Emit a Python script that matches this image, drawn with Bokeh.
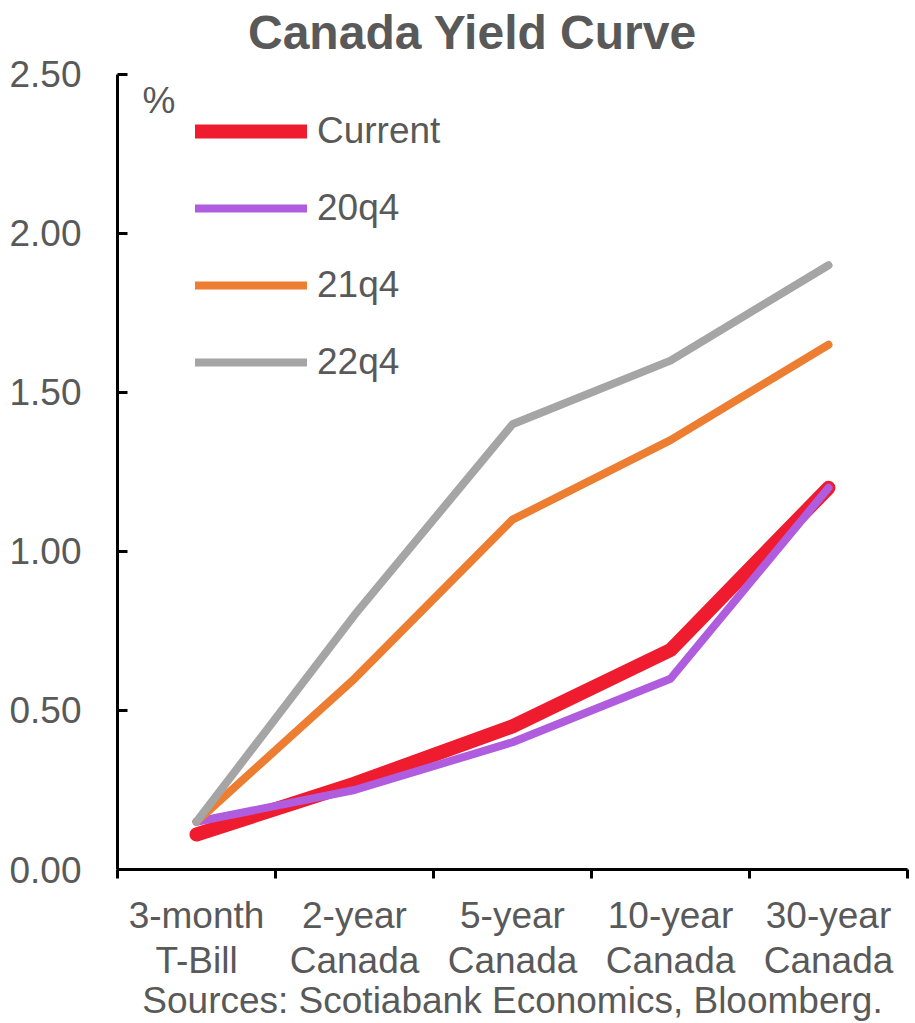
from bokeh.plotting import figure
from bokeh.models import FixedTicker, NumeralTickFormatter, Range1d, Legend, LegendItem, Label, ColumnDataSource
from bokeh.embed import file_html
from bokeh.resources import INLINE

# Canada yield curve: yields (%) by maturity
maturities = ["3-month\nT-Bill", "2-year\nCanada", "5-year\nCanada", "10-year\nCanada", "30-year\nCanada"]
current = [0.11, 0.27, 0.45, 0.69, 1.20]
q4_20 = [0.15, 0.25, 0.40, 0.60, 1.20]
q4_21 = [0.15, 0.60, 1.10, 1.35, 1.65]
q4_22 = [0.15, 0.80, 1.40, 1.60, 1.90]
y_ticks = [0.0, 0.5, 1.0, 1.5, 2.0, 2.5]

FONT = "Liberation Sans"
TEXT = "#595959"

# plot area runs to the top of the canvas so the title can sit inside it;
# the value axis itself only spans 0 - 2.5 (796 px of the 870 px frame)
Y_MAX = 2.5
FRAME_H, AXIS_H = 870, 796
y_top = Y_MAX * FRAME_H / AXIS_H

xpos = [i + 0.5 for i in range(len(maturities))]
bounds = list(range(len(maturities) + 1))

p = figure(width=915, height=1023, output_backend="svg", toolbar_location=None,
           x_range=Range1d(0, len(maturities)), y_range=Range1d(0, y_top),
           min_border_left=117, min_border_right=8, min_border_top=0, min_border_bottom=153)
p.outline_line_color = None
p.xgrid.visible = False
p.ygrid.visible = False
p.background_fill_color = "white"

series = [
    ("Current", current, "#EE1C2E", 14),
    ("20q4", q4_20, "#AF5CDE", 8),
    ("21q4", q4_21, "#ED7D31", 8),
    ("22q4", q4_22, "#A5A5A5", 8),
]

items = []
for name, vals, color, w in series:
    src = ColumnDataSource(dict(x=xpos, y=vals))
    r = p.line("x", "y", source=src, line_color=color, line_width=w,
               line_cap="round", line_join="round")
    items.append(LegendItem(label=name, renderers=[r]))

legend = Legend(items=items, location=(78, 486), orientation="vertical",
                label_text_font=FONT, label_text_font_size="37px", label_text_color=TEXT,
                glyph_width=112, glyph_height=40, label_height=40, label_standoff=10,
                spacing=35, padding=0, margin=0,
                border_line_color=None, background_fill_alpha=0)
p.add_layout(legend, "center")

# x axis: labels centred on each maturity, short ticks between them
xa = p.xaxis[0]
xa.ticker = FixedTicker(ticks=xpos, minor_ticks=bounds)
xa.major_label_overrides = {x: lab for x, lab in zip(xpos, maturities)}
xa.major_tick_in = 0
xa.major_tick_out = 0
xa.minor_tick_in = 0
xa.minor_tick_out = 9
xa.minor_tick_line_color = "black"
xa.minor_tick_line_width = 3
xa.axis_line_color = "black"
xa.axis_line_width = 3
xa.major_label_text_font = FONT
xa.major_label_text_font_size = "37px"
xa.major_label_text_line_height = 1.1
xa.major_label_text_color = TEXT
xa.major_label_standoff = 16
xa.axis_label = "Sources: Scotiabank Economics, Bloomberg."
xa.axis_label_text_font = FONT
xa.axis_label_text_font_size = "37px"
xa.axis_label_text_font_style = "normal"
xa.axis_label_text_color = TEXT
xa.axis_label_standoff = -4

ya = p.yaxis[0]
ya.bounds = (0, Y_MAX)
ya.ticker = FixedTicker(ticks=y_ticks)
ya.formatter = NumeralTickFormatter(format="0.00")
ya.major_tick_in = 10
ya.major_tick_out = 0
ya.minor_tick_in = 0
ya.minor_tick_out = 0
ya.major_tick_line_color = "black"
ya.major_tick_line_width = 3
ya.axis_line_color = "black"
ya.axis_line_width = 3
ya.major_label_text_font = FONT
ya.major_label_text_font_size = "37px"
ya.major_label_text_color = TEXT
ya.major_label_standoff = 36

# chart title and unit marker
p.add_layout(Label(x=2.247, y=2.633, text="Canada Yield Curve", text_font=FONT,
                   text_font_size="48px", text_font_style="bold", text_color=TEXT,
                   text_align="center", text_baseline="alphabetic"))
p.add_layout(Label(x=0.158, y=2.418, text="%", text_font=FONT, text_font_size="37px",
                   text_color=TEXT, text_align="left", text_baseline="middle"))

open("out.html", "w").write(file_html(p, INLINE))
